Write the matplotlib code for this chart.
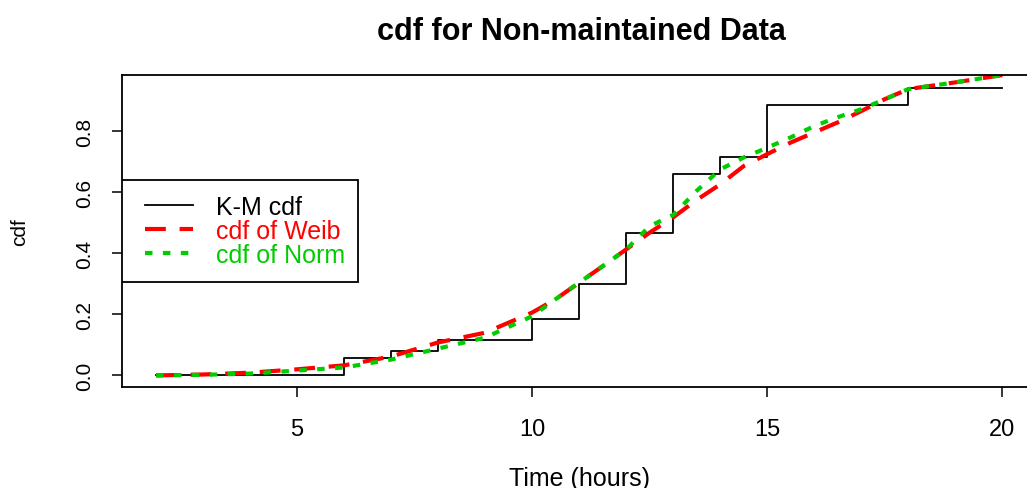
import numpy as np
import matplotlib.pyplot as plt
from matplotlib.patches import Rectangle

plt.rcParams['font.family'] = ['Liberation Sans', 'DejaVu Sans']

# Kaplan-Meier step function
km_time = [2, 6, 7, 8, 10, 11, 12, 13, 14, 15, 18, 20]
km_cdf = [0.0, 0.056, 0.08, 0.116, 0.185, 0.30, 0.467, 0.661, 0.717, 0.886, 0.943, 0.943]

# fitted cdf curves
fit_time = [2, 3, 4, 5, 6, 7, 8, 9, 10, 10.5, 11, 11.5, 12, 12.5, 13, 13.5, 14, 14.5,
            15, 15.5, 16, 16.5, 17, 17.5, 18, 19, 20]
weib_cdf = [0.0, 0.003, 0.009, 0.02, 0.033, 0.062, 0.108, 0.14, 0.206, 0.25, 0.304, 0.358,
            0.413, 0.468, 0.518, 0.575, 0.626, 0.686, 0.725, 0.763, 0.796, 0.829, 0.866,
            0.905, 0.938, 0.96, 0.984]
norm_cdf = [0.0, 0.002, 0.006, 0.016, 0.026, 0.052, 0.088, 0.124, 0.194, 0.25, 0.304, 0.358,
            0.413, 0.489, 0.526, 0.605, 0.675, 0.714, 0.746, 0.78, 0.817, 0.846, 0.872,
            0.905, 0.938, 0.96, 0.984]

fig = plt.figure(figsize=(10.27, 4.89), dpi=100)
ax = fig.add_axes([0.119, 0.2065, 0.89, 0.638])

ax.step(km_time, km_cdf, where='post', color='black', lw=1.3, label='K-M cdf')
ax.plot(fit_time, weib_cdf, color='#FF0000', lw=3, ls=(0, (5, 3.3)), label='cdf of Weib')
ax.plot(fit_time, norm_cdf, color='#00CD00', lw=3, ls=(0, (1.8, 2.5)), label='cdf of Norm')

ax.set_xlim(1.28, 20.72)
ax.set_ylim(-0.038, 0.984)
ax.set_xticks([5, 10, 15, 20])
ax.set_yticks([0.0, 0.2, 0.4, 0.6, 0.8])
ax.set_yticklabels(['0.0', '0.2', '0.4', '0.6', '0.8'], rotation=90, va='center')
ax.tick_params(axis='x', labelsize=17, length=7, width=1.1, pad=15)
ax.tick_params(axis='y', labelsize=15, length=7, width=1.1, pad=13)
for s in ax.spines.values():
    s.set_linewidth(1.3)

ax.set_xlabel('Time (hours)', fontsize=18, labelpad=19)
ax.set_ylabel('cdf', fontsize=15, labelpad=33)
fig.suptitle('cdf for Non-maintained Data', fontsize=22, fontweight='bold', x=0.566, y=0.965)

# legend box drawn separately so the inner margins match
ax.add_patch(Rectangle((0.0, 0.3365), 0.2582, 0.3269, transform=ax.transAxes,
                       facecolor='white', edgecolor='black', lw=1.3, zorder=4))
leg = ax.legend(loc='upper left', bbox_to_anchor=(0.0252, 0.617), fontsize=18,
                frameon=False, handlelength=1.9, handletextpad=0.95, borderpad=0,
                labelspacing=0.0, borderaxespad=0)
leg.set_zorder(5)
for txt, c in zip(leg.get_texts(), ['black', '#FF0000', '#00CD00']):
    txt.set_color(c)

fig.savefig('out.png', dpi=100)
